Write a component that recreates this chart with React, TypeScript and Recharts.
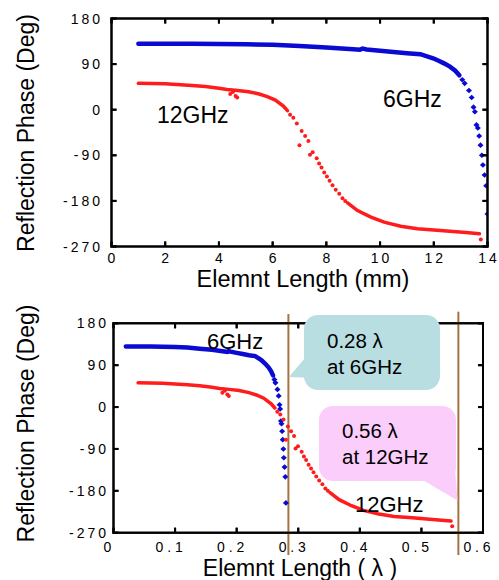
import React from 'react';
import { ComposedChart, Line, Scatter, XAxis, YAxis, ReferenceLine, ReferenceArea } from 'recharts';

// ---- axis ticks ----
const mmTicks = [0, 2, 4, 6, 8, 10, 12, 14];
const lambdaTicks = [0, 0.1, 0.2, 0.3, 0.4, 0.5, 0.6];
const phaseTicks = [-270, -180, -90, 0, 90, 180];
const phaseDomain = [-270, 180];
const mmDomain = [0, 14];
const lambdaDomain = [0, 0.6];

// ---- 6 GHz series (blue): element length (mm) vs reflection phase (deg) ----
const blueDenseMm = [1, 2, 3, 4, 5, 6, 7, 8, 9, 9.25, 9.35, 9.5, 10, 10.5, 11, 11.5, 12, 12.2, 12.4, 12.6, 12.8, 12.95];
const blueDenseDeg = [130, 130, 130, 129.5, 129, 128, 125.5, 123, 119.5, 118.5, 120.5, 119, 116.5, 114, 111.5, 109.5, 101, 96, 91, 85, 77, 68];
const blueDotMm = [13.06, 13.15, 13.31, 13.41, 13.48, 13.53, 13.59, 13.64, 13.69, 13.74, 13.79, 13.83, 13.89, 13.95, 14.0];
const blueDotDeg = [59, 52, 38, 24, 5, -4, -30, -36, -52, -70, -90, -109, -129, -150, -206];

// ---- 12 GHz series (red) ----
const redDenseAMm = [1, 2, 3, 3.5, 4, 4.3, 4.7, 5.1, 5.5, 5.8, 6.1, 6.4, 6.55];
const redDenseADeg = [52, 51, 48, 46, 42.5, 40, 38, 35.5, 31, 26, 19, 7, -2];
const redDenseBMm = [8.79, 9.16, 9.66, 10.15, 10.77, 11.39, 12.0, 12.6, 13.2, 13.7];
const redDenseBDeg = [-184, -199, -212, -222, -230, -235, -237.5, -240, -242.5, -245];
const redDotMm = [4.42, 4.52, 4.62, 4.68, 6.65, 6.77, 6.9, 7.0, 7.08, 7.21, 7.33, 7.39, 7.49, 7.64, 7.73, 7.82, 7.92, 8.02, 8.12, 8.23, 8.35, 8.48, 8.6, 8.7, 13.75];
const redDotDeg = [31, 35, 27, 24, -10, -16, -27, -70, -42, -52, -62, -89, -84, -96, -106, -114, -124, -132, -140, -149, -158, -166, -175, -180, -256];

// free-space wavelengths (mm)
const LAMBDA_6GHZ_MM = 50;
const LAMBDA_12GHZ_MM = 25;
// vertical marker lines in the lower chart (in wavelengths)
const markerLambda = [0.284, 0.56];

const pts = (xs: number[], ys: number[], div = 1) => xs.map((x, i) => ({ x: x / div, y: ys[i] }));

const topData = {
  blueDense: pts(blueDenseMm, blueDenseDeg), blueDots: pts(blueDotMm, blueDotDeg),
  redA: pts(redDenseAMm, redDenseADeg), redB: pts(redDenseBMm, redDenseBDeg), redDots: pts(redDotMm, redDotDeg),
};
const botData = {
  blueDense: pts(blueDenseMm, blueDenseDeg, LAMBDA_6GHZ_MM), blueDots: pts(blueDotMm, blueDotDeg, LAMBDA_6GHZ_MM),
  redA: pts(redDenseAMm, redDenseADeg, LAMBDA_12GHZ_MM), redB: pts(redDenseBMm, redDenseBDeg, LAMBDA_12GHZ_MM),
  redDots: pts(redDotMm, redDotDeg, LAMBDA_12GHZ_MM),
};

const BLUE = '#0a0ad2';
const RED = '#ff1c1c';
const BROWN = '#a8723f';
const TICK_FONT = "'Liberation Sans', Arial, sans-serif";
const LS = 3;
const TL = 5; // inward tick length

const Diamond = (p: any) => {
  const { cx, cy } = p;
  if (cx == null || cy == null) return null;
  return <polygon points={`${cx},${cy - 2.8} ${cx + 3},${cy} ${cx},${cy + 2.8} ${cx - 3},${cy}`} fill={BLUE} />;
};
const Dot = (p: any) => {
  const { cx, cy } = p;
  if (cx == null || cy == null) return null;
  return <circle cx={cx} cy={cy} r={2} fill={RED} />;
};

// tick renderers: inward tick mark + label
const TopXTick = (t: any) => (
  <g>
    <rect x={t.x - 1} y={t.y - TL} width={2} height={TL} fill="#000" />
    <text x={t.x + LS / 2} y={t.y + 16} textAnchor="middle" fontFamily={TICK_FONT} fontSize={14} letterSpacing={LS} fill="#000">
      {String(t.payload.value)}
    </text>
  </g>
);
const fmtLambda = (v: number) => (v === 0 ? '0' : `0 . ${Math.round(v * 10)}`);
const BotXTick = (t: any) => (
  <g>
    <rect x={t.x - 1} y={t.y - TL} width={2} height={TL} fill="#000" />
    <text x={t.x - 6} y={t.y + 19.5} textAnchor="middle" fontFamily={TICK_FONT} fontSize={14} fill="#000">
      {fmtLambda(t.payload.value)}
    </text>
  </g>
);
const makeYTick = (gap: number) => (t: any) => (
  <g>
    <rect x={t.x} y={t.y - 1} width={TL} height={2} fill="#000" />
    <text x={t.x - gap + LS} y={t.y + 5} textAnchor="end" fontFamily={TICK_FONT} fontSize={14} letterSpacing={LS} fill="#000">
      {String(t.payload.value)}
    </text>
  </g>
);
const TopYTick = makeYTick(11.5);
const BotYTick = makeYTick(7.5);
const TopMarkTick = (t: any) => <rect x={t.x - 1} y={t.y} width={2} height={TL} fill="#000" />;
const RightMarkTick = (t: any) => <rect x={t.x - TL} y={t.y - 1} width={TL} height={2} fill="#000" />;

// Frame + inward tick marks for a plot box (same geometry as the chart's plot area)
const FrameMarks = ({ x, y, width, height, xDomain, xTicks }: any) => {
  const sx = (v: number) => x + ((v - xDomain[0]) / (xDomain[1] - xDomain[0])) * width;
  const sy = (v: number) => y + ((phaseDomain[1] - v) / (phaseDomain[1] - phaseDomain[0])) * height;
  return (
    <g className="plot-frame" fill="#000">
      {xTicks.map((t: number) => (
        <g key={'x' + t}>
          <rect x={sx(t) - 1} y={y + height - TL} width={2} height={TL} />
          <rect x={sx(t) - 1} y={y} width={2} height={TL} />
        </g>
      ))}
      {phaseTicks.map((t) => (
        <g key={'y' + t}>
          <rect x={x} y={sy(t) - 1} width={TL} height={2} />
          <rect x={x + width - TL} y={sy(t) - 1} width={TL} height={2} />
        </g>
      ))}
      <rect x={x - 1} y={y - 1} width={width + 2} height={2} />
      <rect x={x - 1} y={y + height - 1} width={width + 2} height={2} />
      <rect x={x - 1} y={y - 1} width={2} height={height + 2} />
      <rect x={x + width - 1} y={y - 1} width={2} height={height + 2} />
    </g>
  );
};

const CHART_W = 499;
const CHART_H = 290;
const topMargin = { top: 17.5, right: 10.5, left: 0, bottom: 0 };
const botMargin = { top: 32.3, right: 15, left: 0, bottom: 0 };
const TOP_YW = 111.5, TOP_XH = 43.5;
const BOT_YW = 113.5, BOT_XH = 47.3;
const plotBox = (m: typeof topMargin, yw: number, xh: number, top: number) => ({
  x: m.left + yw,
  y: top + m.top + 1,
  width: CHART_W - m.left - m.right - 1 - yw,
  height: CHART_H - m.top - 1 - m.bottom - xh,
});

type PanelProps = {
  id: string;
  margin: { top: number; right: number; left: number; bottom: number };
  yWidth: number; xHeight: number;
  xDomain: number[]; xTicks: number[];
  XTick: any; YTick: any;
  data: typeof topData;
  markers?: number[];
};

const Panel = ({ id, margin, yWidth, xHeight, xDomain, xTicks, XTick, YTick, data, markers }: PanelProps) => (
  <ComposedChart id={id} width={CHART_W} height={CHART_H} margin={margin}>
    <XAxis xAxisId={0} dataKey="x" type="number" domain={xDomain} ticks={xTicks} allowDataOverflow
      height={xHeight} axisLine={false} tickLine={false} tickSize={-5} tickMargin={5} tick={XTick} interval={0} />
    <XAxis xAxisId="top" orientation="top" dataKey="x" type="number" domain={xDomain} ticks={xTicks} allowDataOverflow
      height={1} axisLine={false} tickLine={false} tickSize={-5} tickMargin={5} tick={TopMarkTick} interval={0} />
    <YAxis yAxisId={0} dataKey="y" type="number" domain={phaseDomain} ticks={phaseTicks} allowDataOverflow
      width={yWidth} axisLine={false} tickLine={false} tickSize={-5} tickMargin={5} tick={YTick} interval={0} />
    <YAxis yAxisId="right" orientation="right" dataKey="y" type="number" domain={phaseDomain} ticks={phaseTicks} allowDataOverflow
      width={1} axisLine={false} tickLine={false} tickSize={-5} tickMargin={5} tick={RightMarkTick} interval={0} />
    {(markers || []).map((m, i) => (
      <ReferenceLine key={'m' + i} xAxisId={0} yAxisId={0} ifOverflow="visible" stroke={BROWN} strokeWidth={2}
        segment={[{ x: m, y: i === 0 ? 200 : 205 }, { x: m, y: -318 }]} />
    ))}
    <Line xAxisId={0} yAxisId={0} data={data.blueDense} dataKey="y" type="linear" stroke={BLUE} strokeWidth={4.5} strokeLinecap="round" dot={false} activeDot={false} isAnimationActive={false} />
    <Scatter xAxisId={0} yAxisId={0} data={data.blueDots} dataKey="y" shape={Diamond} isAnimationActive={false} />
    <Line xAxisId={0} yAxisId={0} data={data.redA} dataKey="y" type="linear" stroke={RED} strokeWidth={3.5} strokeLinecap="round" dot={false} activeDot={false} isAnimationActive={false} />
    <Line xAxisId={0} yAxisId={0} data={data.redB} dataKey="y" type="linear" stroke={RED} strokeWidth={3.5} strokeLinecap="round" dot={false} activeDot={false} isAnimationActive={false} />
    <Scatter xAxisId={0} yAxisId={0} data={data.redDots} dataKey="y" shape={Dot} isAnimationActive={false} />
    <ReferenceArea xAxisId={0} yAxisId={0} x1={xDomain[0]} x2={xDomain[1]} y1={phaseDomain[0]} y2={phaseDomain[1]}
      ifOverflow="visible" fill="none" fillOpacity={0} stroke="#000" strokeWidth={2} strokeOpacity={1} />
  </ComposedChart>
);

const LABEL_FONT = "'Liberation Sans', Arial, sans-serif";

export default function App() {
  const topBox = plotBox(topMargin, TOP_YW, TOP_XH, 0);
  const botBox = plotBox(botMargin, BOT_YW, BOT_XH, 290);
  return (
    <div style={{ position: 'absolute', left: 0, top: 0, width: 499, height: 580, background: '#fff', overflow: 'hidden' }}>
      <div style={{ position: 'absolute', left: 0, top: 0 }}>
        <Panel id="phase-mm" margin={topMargin} yWidth={TOP_YW} xHeight={TOP_XH} xDomain={mmDomain} xTicks={mmTicks}
          XTick={TopXTick} YTick={TopYTick} data={topData} />
      </div>
      <div style={{ position: 'absolute', left: 0, top: 290 }}>
        <Panel id="phase-lambda" margin={botMargin} yWidth={BOT_YW} xHeight={BOT_XH} xDomain={lambdaDomain} xTicks={lambdaTicks}
          XTick={BotXTick} YTick={BotYTick} data={botData} markers={markerLambda} />
      </div>
      <svg width={499} height={580} style={{ position: 'absolute', left: 0, top: 0, pointerEvents: 'none' }}>
        <FrameMarks {...topBox} xDomain={mmDomain} xTicks={mmTicks} />
        <FrameMarks {...botBox} xDomain={lambdaDomain} xTicks={lambdaTicks} />
        <g fontFamily={LABEL_FONT} fill="#000">
          <text transform="translate(33.5,133) rotate(-90)" textAnchor="middle" fontSize={23}>Reflection Phase (Deg)</text>
          <text x={303} y={287} textAnchor="middle" fontSize={23.5}>Elemnt Length (mm)</text>
          <text x={157} y={123} fontSize={23}>12GHz</text>
          <text x={383} y={107} fontSize={23}>6GHz</text>

          <text transform="translate(33.5,423.5) rotate(-90)" textAnchor="middle" fontSize={23}>Reflection Phase (Deg)</text>
          <text x={300} y={576} textAnchor="middle" fontSize={23}>Elemnt Length ( λ )</text>
          <text x={207} y={349} fontSize={22}>6GHz</text>
          <text x={355} y={512} fontSize={22}>12GHz</text>
        </g>
        <g>
          <rect x={304} y={315} width={136} height={75} rx={14} fill="#b8dee2" />
          <polygon points="310,352 289,377 312,378" fill="#b8dee2" />
          <rect x={319} y={406} width={137} height={75} rx={14} fill="#fbcdfb" />
          <polygon points="421,479 457.5,500.5 455,468" fill="#fbcdfb" />
        </g>
        <g fontFamily={LABEL_FONT} fill="#000" fontSize={20.5}>
          <text x={327} y={347.5}>0.28 λ</text>
          <text x={327} y={373.5}>at 6GHz</text>
          <text x={342} y={437.5}>0.56 λ</text>
          <text x={342} y={464}>at 12GHz</text>
        </g>
      </svg>
    </div>
  );
}
